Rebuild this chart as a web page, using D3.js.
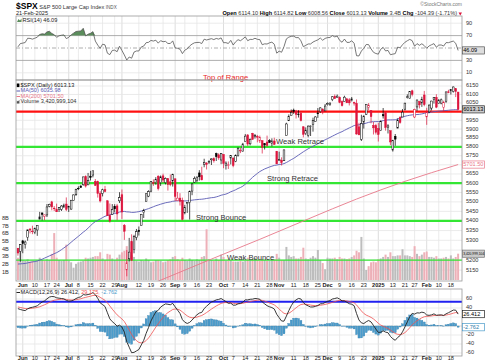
<!DOCTYPE html>
<html><head><meta charset="utf-8">
<script src="https://d3js.org/d3.v7.min.js"></script>
<style>body{margin:0;background:#fff}svg{display:block}text{font-family:"Liberation Sans",Arial,sans-serif}</style>
</head><body>
<svg id="chart" width="485" height="360"></svg>
<script>
// closes before the visible window (Mar 18 - May 29 2024), only used to warm up MA / RSI / MACD
var preCloses = [5149.42,5178.51,5224.62,5241.53,5234.18,5218.19,5203.58,5248.49,5254.35,
 5243.77,5205.81,5211.49,5147.21,5204.34,5202.39,5209.91,5160.64,5199.06,5123.41,5061.82,5051.41,5022.21,5011.12,4967.23,5010.60,5070.55,5071.63,5048.42,5099.96,5116.17,5035.69,
 5018.39,5064.20,5127.79,5180.74,5187.70,5187.67,5214.08,5222.68,5221.42,5246.68,5308.15,5297.10,5303.27,5308.13,5321.41,5307.01,5267.84,5304.72,5306.04,5266.95];

// daily bars May 30 2024 - Feb 21 2025
var opens = [5259.77,5243.21,5297.15,5278.24,5314.48,5357.80,5343.81,5341.22,5353.00,5409.13,5441.93,5424.08,5431.11,5476.15,5499.99,5466.77,5459.58,5460.73,5460.71,5473.59,5488.48,
 5471.08,5461.84,5507.44,5537.91,5572.75,5584.24,5591.26,5635.21,5590.76,5638.16,5644.09,5610.07,5608.56,5543.37,5544.54,5565.30,5505.84,5428.70,5433.67,5476.55,5478.73,5505.59,
 5537.84,5376.63,5151.14,5206.42,5293.13,5252.57,5314.09,5351.88,5376.98,5442.84,5501.31,5530.50,5557.23,5602.88,5603.09,5637.77,5602.49,5639.66,5602.89,5624.51,5607.30,5612.74,
 5623.89,5506.68,5520.08,5507.33,5442.07,5490.51,5496.42,5557.48,5605.29,5615.14,5655.51,5641.68,5702.83,5709.50,5711.90,5727.61,5733.65,5762.22,5755.36,5726.52,
 5757.73,5698.19,5698.28,5737.76,5737.80,5719.14,5751.80,5778.36,5775.09,5829.81,5866.74,5816.58,5875.62,5859.43,5857.82,5832.70,5834.50,5817.80,5826.75,5833.93,5819.68,5832.65,5775.34,
 5723.22,5725.15,5722.43,5864.89,5947.21,5976.76,6008.86,6003.60,5985.75,5989.68,5912.79,5874.17,5864.30,5914.45,5927.12,5944.36,5992.28,6000.03,6014.11,6003.98,
 6040.11,6042.97,6069.39,6089.03,6081.38,6083.01,6057.59,6060.15,6074.29,6068.17,6063.79,6052.55,6047.65,5912.71,5842.00,5940.25,5984.63,6024.97,6006.17,5920.67,5919.74,
 5903.26,5891.07,5982.81,5993.26,5910.66,5890.66,5782.25,5859.03,5905.21,5967.26,5969.26,6014.12,6081.39,6076.32,6121.43,5969.04,6026.97,6057.70,6050.75,6096.79,
 5969.65,5998.14,6020.45,6072.22,6083.13,6046.40,6049.32,6025.08,6060.59,6115.52,6121.60,6117.76,6134.50,6114.10];
var highs = [5260.21,5280.33,5302.11,5298.80,5354.16,5362.35,5375.08,5365.79,5375.95,5447.25,5441.93,5432.39,5488.50,5490.38,5505.53,5478.31,5490.66,5472.88,5483.14,5490.81,5523.64,
 5479.55,5509.69,5539.27,5570.33,5583.11,5590.75,5635.39,5642.45,5655.56,5666.94,5667.34,5622.49,5614.05,5557.50,5570.36,5585.34,5508.04,5491.59,5488.32,5487.74,5489.46,5551.51,
 5566.16,5383.89,5250.89,5312.34,5330.64,5328.03,5358.22,5371.20,5436.50,5463.22,5546.23,5561.98,5608.30,5620.51,5632.68,5643.22,5641.82,5651.62,5631.18,5627.03,5646.95,5651.37,
 5623.89,5552.99,5546.30,5522.47,5484.20,5497.91,5560.41,5600.71,5636.27,5636.05,5670.81,5689.75,5733.57,5715.14,5725.36,5735.32,5741.03,5767.37,5763.78,5765.14,
 5757.73,5719.14,5718.78,5753.69,5739.34,5757.60,5796.80,5795.03,5822.13,5871.41,5870.36,5846.52,5878.46,5872.17,5866.92,5863.04,5834.85,5817.80,5862.82,5842.92,5847.19,5850.94,5775.34,
 5772.64,5741.43,5783.44,5936.14,5983.84,6012.45,6017.31,6009.92,6008.19,6000.63,5915.82,5909.45,5920.46,5920.67,5965.25,5972.90,6020.75,6025.42,6020.16,6044.17,
 6053.58,6052.79,6089.84,6099.97,6099.97,6088.51,6065.40,6092.59,6079.68,6078.58,6085.19,6057.68,6070.67,5935.52,5982.06,5978.25,6040.10,6049.75,6006.17,5940.79,5929.74,
 5935.09,5949.34,6021.04,6000.68,5927.89,5890.66,5838.96,5871.92,5960.61,5974.00,6014.96,6051.51,6100.81,6118.73,6128.18,6017.17,6069.10,6062.83,6086.64,6120.91,
 6022.13,6042.48,6062.86,6084.03,6101.28,6073.38,6076.28,6063.45,6116.91,6127.47,6129.63,6147.43,6134.50,6114.82];
var lows = [5222.10,5191.68,5234.32,5257.63,5297.64,5335.36,5331.33,5331.52,5322.87,5409.13,5402.51,5403.75,5420.40,5471.32,5455.56,5452.03,5447.59,5446.56,5451.87,5467.54,5451.12,
 5446.53,5458.43,5507.42,5531.63,5562.51,5574.57,5586.44,5576.53,5590.44,5614.75,5631.47,5584.81,5522.81,5497.04,5529.04,5550.90,5426.11,5390.95,5430.70,5444.44,5403.75,5493.75,
 5410.42,5302.03,5119.26,5193.56,5195.54,5233.85,5300.44,5324.37,5376.98,5415.33,5501.31,5525.17,5550.74,5585.50,5591.57,5560.95,5585.16,5602.34,5593.48,5560.20,5583.71,5581.79,
 5504.33,5503.66,5480.53,5402.62,5434.49,5441.72,5406.96,5535.50,5601.65,5604.53,5614.05,5615.08,5686.42,5674.49,5704.94,5698.99,5712.06,5721.01,5727.34,5703.53,
 5681.28,5674.00,5677.37,5702.18,5686.85,5714.56,5745.02,5764.76,5775.09,5829.81,5804.48,5808.34,5840.25,5846.11,5824.81,5821.17,5762.41,5784.92,5799.98,5823.08,5802.17,5811.28,5703.82,
 5723.22,5696.51,5722.10,5864.89,5947.21,5976.76,5986.69,5960.08,5965.91,5943.44,5853.01,5865.95,5853.01,5860.58,5885.22,5944.36,5963.91,5992.27,5984.87,6003.98,
 6035.33,6033.39,6061.06,6079.98,6079.98,6048.63,6029.89,6060.15,6051.25,6035.77,6059.14,6035.19,5867.79,5866.07,5832.30,5902.57,5981.44,6007.37,5932.95,5869.16,5868.86,
 5829.53,5888.66,5960.01,5890.68,5874.78,5809.24,5773.31,5805.46,5905.21,5930.58,5969.26,6006.88,6076.14,6074.67,6088.74,5962.92,6003.67,6018.61,6027.46,6030.93,
 5923.93,5990.87,6007.06,6046.83,6019.96,6044.84,6042.34,6003.00,6051.00,6107.62,6099.51,6111.15,6084.59,6008.56];
var closes = [5235.48,5277.51,5283.40,5291.34,5354.03,5352.96,5346.99,5360.79,5375.32,5421.03,5433.74,5431.60,5473.23,5487.03,5473.17,5464.62,5447.87,5469.30,5477.90,5482.87,5460.48,
 5475.09,5509.01,5537.02,5567.19,5572.85,5576.98,5633.91,5584.54,5615.35,5631.22,5667.20,5588.27,5544.59,5505.00,5564.41,5555.74,5427.13,5399.22,5459.10,5463.54,5436.44,5522.30,
 5446.68,5346.56,5186.33,5240.03,5199.50,5319.31,5344.16,5344.39,5434.43,5455.21,5543.22,5554.25,5608.25,5597.12,5620.85,5570.64,5634.61,5616.84,5625.80,5592.18,5591.96,5648.40,
 5528.93,5520.07,5503.41,5408.42,5471.05,5495.52,5554.13,5595.76,5626.02,5633.09,5634.58,5618.26,5713.64,5702.55,5718.57,5732.93,5722.26,5745.37,5738.17,5762.48,
 5708.75,5709.54,5699.94,5751.07,5695.94,5751.13,5792.04,5780.05,5815.03,5859.85,5815.26,5842.47,5841.47,5864.67,5853.98,5851.20,5797.42,5809.86,5808.12,5823.52,5832.92,5813.67,5705.45,
 5728.80,5712.69,5782.76,5929.04,5973.10,5995.54,6001.35,5983.99,5985.38,5949.17,5870.62,5893.62,5916.98,5917.11,5948.71,5969.34,5987.37,6021.63,5998.74,6032.38,
 6047.15,6049.88,6086.49,6075.11,6090.27,6052.85,6034.91,6084.19,6051.25,6051.09,6074.08,6050.61,5872.16,5867.08,5930.85,5974.07,6040.04,6037.59,5970.84,5906.94,5881.63,
 5868.55,5942.47,5975.38,5909.03,5918.25,5827.04,5836.22,5842.91,5949.91,5937.34,5996.66,6049.24,6086.37,6118.71,6101.24,6012.28,6067.70,6039.31,6071.17,6040.53,
 5994.57,6037.88,6061.48,6083.57,6025.99,6066.44,6068.50,6051.97,6115.07,6114.63,6129.58,6144.15,6117.52,6013.13];
// volume, billions
var volumes = [2.9,4.6,2.6,2.5,2.7,2.4,2.5,2.4,2.5,2.9,2.6,2.5,2.7,2.6,3.4,6.1,2.9,2.6,2.5,2.6,4.6,
 2.5,2.3,1.6,2.1,2.3,2.4,2.5,2.9,2.8,2.9,3.0,3.1,3.1,3.6,2.8,2.6,3.4,3.3,2.8,2.6,2.9,3.3,
 3.6,3.8,4.4,3.4,3.2,3.0,2.5,2.4,2.6,2.5,2.8,2.6,2.3,2.4,2.6,2.6,2.5,2.3,2.4,2.6,2.7,3.0,
 3.1,2.7,2.5,2.9,2.6,2.5,2.8,2.6,2.5,2.7,2.6,3.0,3.1,6.6,2.7,2.6,2.5,2.8,2.6,3.3,
 3.0,2.5,2.5,2.6,2.4,2.4,2.4,2.5,2.4,2.5,2.9,2.6,2.7,2.9,2.6,2.5,2.7,2.6,2.5,2.5,2.7,2.7,3.4,
 2.9,2.6,2.6,4.3,3.2,3.0,3.1,2.8,2.8,3.0,4.2,2.8,2.7,2.9,3.1,2.9,3.9,2.6,2.2,1.4,
 2.9,2.8,2.8,2.9,2.7,3.0,2.8,2.8,2.7,2.8,3.0,3.2,3.8,3.6,5.6,2.8,1.3,1.8,2.3,2.4,2.3,
 2.7,2.8,3.0,3.3,3.0,3.6,3.1,3.1,3.2,3.2,4.0,3.2,3.2,3.1,3.0,4.4,3.4,3.1,3.3,3.6,
 3.7,3.0,3.0,2.9,3.1,2.8,2.8,2.9,3.0,2.8,3.2,2.8,3.0,3.42];
// 200-day MA at a few bars
var ma200Idx = [0,20,40,60,80,100,120,140,160,182];
var ma200Val = [4810,4920,5010,5105,5205,5305,5410,5515,5610,5701.5];

var tickIdx = [2,7,12,16,21,25,30,35,40,43,50,55,60,65,69,74,79,85,89,94,99,104,108,114,119,124,128,133,138,143,149,155,160,164,169,174,179];
var tickText = ['Jun','10','17','24','Jul','8','15','22','29','Aug','12','19','26','Sep','9','16','23','Oct','7','14','21','28','Nov','11','18','25','Dec','9','16','23','2025','13','21','27','Feb','10','18'];
var priceTicks = [5150,5200,5250,5300,5350,5400,5450,5500,5550,5600,5650,5700,5750,5800,5850,5900,5950,6000,6050,6100,6150];
var rsiTicks = [10,30,50,70,90];
var macdTicks = [-60,-40,-20,0,20,40,60];
var volTicks = [1,2,3,4,5,6,7,8];
var levelVals = [6000,5800,5600,5400,5200];
var levelNames = ['Top of Range','Weak Retrace','Strong Retrace','Strong Bounce','Weak Bounce'];

var L=16, R=462;
var svg=d3.select('#chart');
svg.append('rect').attr('width',485).attr('height',360).attr('fill','#fff');

var x=d3.scaleLinear().domain([-0.8,183.6]).range([L,R]);
var yR=d3.scaleLinear().domain([0,100]).range([79,17]);
var yP=d3.scaleLog().domain([5101,6185.7]).range([280,80]);
var yV=d3.scaleLinear().domain([0,26]).range([280,80]);
var yM=d3.scaleLinear().domain([-66.7,80]).range([356,290]);

var panels=[[16,80],[80,281],[289,356]];
var defs=svg.append('defs');
panels.forEach(function(p,k){
	defs.append('clipPath').attr('id','clip'+k).append('rect')
		.attr('x',L).attr('y',p[0]).attr('width',R-L).attr('height',p[1]-p[0]);
});

// vertical grid
panels.forEach(function(p){
	svg.selectAll(null).data(tickIdx).enter().append('line')
		.attr('x1',function(d){return x(d);}).attr('x2',function(d){return x(d);})
		.attr('y1',p[0]).attr('y2',p[1])
		.attr('stroke',function(d,i){return isNaN(+tickText[i])||tickText[i]=='2025'?'#d4d4d4':'#e6e6e6';})
		.attr('stroke-width',0.8);
});

// ---------- indicators ----------
var all=preCloses.concat(closes), off=preCloses.length;
var ma50=closes.map(function(c,i){var j=i+off;return d3.mean(all.slice(j-49,j+1));});
var rsi=[], ag=0, al=0;
for (var j=1;j<all.length;j++){
	var ch=all[j]-all[j-1], g=Math.max(ch,0), l=Math.max(-ch,0);
	if (j<=14){ag+=g/14;al+=l/14;} else {ag=(ag*13+g)/14;al=(al*13+l)/14;}
	if (j>=off) rsi[j-off]=100-100/(1+ag/al);
}
function ema(arr,n){var k=2/(n+1),out=[],e=arr[0];arr.forEach(function(v,i){e=i?v*k+e*(1-k):v;out.push(e);});return out;}
var e12=ema(all,12), e26=ema(all,26);
var macdAll=e12.map(function(v,i){return v-e26[i];});
var sigAll=ema(macdAll,9);
var macd=macdAll.slice(off), sig=sigAll.slice(off);
var hist=macd.map(function(v,i){return v-sig[i];});

// ---------- RSI panel ----------
var gR=svg.append('g').attr('clip-path','url(#clip0)');
rsiTicks.forEach(function(t){
	var st = t==70||t==30||t==50 ? '#999' : '#e6e6e6';
	gR.append('line').attr('x1',L).attr('x2',R).attr('y1',yR(t)).attr('y2',yR(t))
		.attr('stroke',st).attr('stroke-width',0.8)
		.attr('stroke-dasharray',t==50?'4,2,1,2':null);
});
gR.append('path').datum(rsi)
	.attr('d',d3.area().x(function(d,i){return x(i);}).y0(yR(70)).y1(function(d){return yR(Math.max(d,70));}))
	.attr('fill','#5b8c5b');
gR.append('path').datum(rsi)
	.attr('d',d3.line().x(function(d,i){return x(i);}).y(function(d){return yR(d);}))
	.attr('fill','none').attr('stroke','#555').attr('stroke-width',0.8);

// ---------- price panel ----------
var gP=svg.append('g').attr('clip-path','url(#clip1)');
priceTicks.forEach(function(t){
	gP.append('line').attr('x1',L).attr('x2',R).attr('y1',yP(t)).attr('y2',yP(t))
		.attr('stroke','#e6e6e6').attr('stroke-width',0.8);
});
// volume overlay
gP.selectAll('.vol').data(volumes).enter().append('rect')
	.attr('class','vol')
	.attr('x',function(d,i){return x(i)-1;})
	.attr('y',function(d){return yV(d);})
	.attr('width',2)
	.attr('height',function(d){return yV(0)-yV(d);})
	.attr('fill',function(d,i){var p=i?closes[i-1]:preCloses[off-1];return closes[i]<p?'#eeb0b8':'#bdbdbd';});
// level lines
levelVals.forEach(function(v,k){
	gP.append('line').attr('x1',L).attr('x2',R).attr('y1',yP(v)).attr('y2',yP(v))
		.attr('stroke',k==0?'#ff1010':'#33e633').attr('stroke-width',k==0?2.4:(k==4?1.2:2.2));
});
// moving averages
gP.append('path').datum(ma200Val)
	.attr('d',d3.line().x(function(d,i){return x(ma200Idx[i]);}).y(function(d){return yP(d);}).curve(d3.curveMonotoneX))
	.attr('fill','none').attr('stroke','#e8788a').attr('stroke-width',0.9);
gP.append('path').datum(ma50)
	.attr('d',d3.line().x(function(d,i){return x(i);}).y(function(d){return yP(d);}))
	.attr('fill','none').attr('stroke','#5a5ab4').attr('stroke-width',0.9);
// candles
function candleColor(i){var p=i?closes[i-1]:preCloses[off-1];return closes[i]<p?'#dc143c':'#000';}
gP.selectAll('.wick').data(closes).enter().append('line')
	.attr('class','wick')
	.attr('x1',function(d,i){return x(i);}).attr('x2',function(d,i){return x(i);})
	.attr('y1',function(d,i){return yP(highs[i]);}).attr('y2',function(d,i){return yP(lows[i]);})
	.attr('stroke',function(d,i){return candleColor(i);}).attr('stroke-width',0.7);
gP.selectAll('.body').data(closes).enter().append('rect')
	.attr('class','body')
	.attr('x',function(d,i){return x(i)-0.85;})
	.attr('y',function(d,i){return yP(Math.max(opens[i],d));})
	.attr('width',1.7)
	.attr('height',function(d,i){return Math.max(0.6,yP(Math.min(opens[i],d))-yP(Math.max(opens[i],d)));})
	.attr('fill',function(d,i){return d>=opens[i]?'#fff':candleColor(i);})
	.attr('stroke',function(d,i){return candleColor(i);}).attr('stroke-width',0.5);

// level annotations
var annX=[203,276,267,196,227], annY=[80,143.5,181,219.5,259.5];
levelNames.forEach(function(n,k){
	svg.append('text').attr('x',annX[k]).attr('y',annY[k]).text(n)
		.attr('font-size','7.6px').attr('fill',k==0?'#e82828':'#333');
});

// ---------- MACD panel ----------
var gM=svg.append('g').attr('clip-path','url(#clip2)');
macdTicks.forEach(function(t){
	gM.append('line').attr('x1',L).attr('x2',R).attr('y1',yM(t)).attr('y2',yM(t))
		.attr('stroke',t==0?'#cfcfcf':'#e6e6e6').attr('stroke-width',0.8);
});
gM.selectAll('.hist').data(hist).enter().append('rect')
	.attr('class','hist')
	.attr('x',function(d,i){return x(i)-1;})
	.attr('y',function(d){return Math.min(yM(0),yM(d));})
	.attr('width',2)
	.attr('height',function(d){return Math.abs(yM(d)-yM(0));})
	.attr('fill','#4b9bcb').attr('stroke','#2f7aa8').attr('stroke-width',0.3);
gM.append('line').attr('x1',L).attr('x2',R).attr('y1',yM(54)).attr('y2',yM(54))
	.attr('stroke','#2020f0').attr('stroke-width',2);
gM.append('path').datum(sig)
	.attr('d',d3.line().x(function(d,i){return x(i);}).y(function(d){return yM(d);}))
	.attr('fill','none').attr('stroke','#f05050').attr('stroke-width',0.8);
gM.append('path').datum(macd)
	.attr('d',d3.line().x(function(d,i){return x(i);}).y(function(d){return yM(d);}))
	.attr('fill','none').attr('stroke','#222').attr('stroke-width',0.9);

// panel borders
panels.forEach(function(p){
	svg.append('rect').attr('x',L).attr('y',p[0]).attr('width',R-L).attr('height',p[1]-p[0])
		.attr('fill','none').attr('stroke','#9a9a9a').attr('stroke-width',0.8);
});

// ---------- axes text ----------
function axisText(sel,xp,yp,t,anchor,size,fill,weight){
	return sel.append('text').attr('x',xp).attr('y',yp).text(t)
		.attr('font-size',size||'5.6px').attr('fill',fill||'#333')
		.attr('text-anchor',anchor||'start').attr('font-weight',weight||null)
		.attr('dominant-baseline','middle');
}
[285.5,359].forEach(function(yy){
	tickIdx.forEach(function(t,i){
		var bold=isNaN(+tickText[i])||tickText[i]=='2025';
		axisText(svg,x(t),yy,tickText[i],'middle','5.6px','#222',bold?'bold':null);
	});
});

// value tags on the right (positions first, so the labels they cover are skipped)
var tags=[
	[yR(rsi[rsi.length-1]),'46.09','#555','#ddd','#000'],
	[yP(closes[closes.length-1]),'6013.13','#333','#ccc','#000'],
	[yP(ma200Val[ma200Val.length-1]),'5701.50','#e8788a','#fff','#e8788a'],
	[yV(volumes[volumes.length-1]),'3,420,999,104','#777','#ccc','#000'],
	[yM(macd[macd.length-1]),'26.412','#222','#fff','#000'],
	[yM(hist[hist.length-1]),'-2.762','#4b9bcb','#fff','#2f7aa8']
];
function free(yy){return tags.every(function(t){return Math.abs(t[0]-yy)>6;});}
rsiTicks.forEach(function(t){ if (free(yR(t))) axisText(svg,466,yR(t),t);});
priceTicks.forEach(function(t){ if (yP(t)>82 && free(yP(t))) axisText(svg,466,yP(t),t);});
macdTicks.forEach(function(t){ if (free(yM(t))) axisText(svg,466,yM(t),t);});
volTicks.forEach(function(t){axisText(svg,2,yV(t),t+'B');});

tags.forEach(function(t){
	svg.append('rect').attr('x',462.5).attr('y',t[0]-3.6).attr('width',22).attr('height',7.2)
		.attr('fill',t[3]).attr('stroke',t[2]).attr('stroke-width',0.7);
	axisText(svg,463.2,t[0]+0.3,t[1],'start',t[1].length>8?'3.3px':'5.6px',t[4]);
});

// ---------- headers & legends ----------
var t1=svg.append('text').attr('x',16).attr('y',8.5);
t1.append('tspan').text('$SPX').attr('font-weight','bold').attr('font-size','8.5px');
t1.append('tspan').text(' S&P 500 Large Cap Index ').attr('font-size','5.6px').attr('fill','#333');
t1.append('tspan').text('INDX').attr('font-size','4.6px').attr('fill','#555');
axisText(svg,16,13.2,'21-Feb-2025','start','5.6px','#222');
svg.append('text').attr('x',462).attr('y',5.5).attr('text-anchor','end').text('©StockCharts.com')
	.attr('font-size','5px').attr('fill','#777');
var parts=[['Open',' 6114.10 '],['High',' 6114.82 '],['Low',' 6008.56 '],['Close',' 6013.13 '],['Volume',' 3.4B '],['Chg',' -104.39 (-1.71%)']];
var t2=svg.append('text').attr('x',457).attr('y',15).attr('text-anchor','end').attr('font-size','5.6px');
parts.forEach(function(p){
	t2.append('tspan').text(p[0]).attr('font-weight','bold');
	t2.append('tspan').text(p[1]).attr('fill','#333');
});
svg.append('path').attr('d','M458.5,12.5 L462,12.5 L460.25,15.5 Z').attr('fill','#dc143c');

// RSI legend
svg.append('path').attr('d','M17,22 L18.5,19 L20,20.5 L21.5,18.5 L21.5,22 Z').attr('fill','#5b8c5b');
axisText(svg,22.5,20.5,'RSI(14) 46.09','start','5.6px','#222');

// price legend
svg.append('rect').attr('x',16.8).attr('y',83.5).attr('width',2.6).attr('height',3.6).attr('fill','#000');
axisText(svg,20.5,85.5,'$SPX (Daily) 6013.13','start','5.6px','#222');
svg.append('line').attr('x1',16.5).attr('x2',20).attr('y1',91).attr('y2',91).attr('stroke','#5a5ab4');
axisText(svg,20.5,91,'MA(50) 6035.98','start','5.6px','#5a5ab4');
svg.append('line').attr('x1',16.5).attr('x2',20).attr('y1',96.5).attr('y2',96.5).attr('stroke','#e8788a');
axisText(svg,20.5,96.5,'MA(200) 5701.50','start','5.6px','#e8788a');
svg.append('path').attr('d','M16.8,103.5 L16.8,100.5 L18,101.5 L19.4,99.8 L19.4,103.5 Z').attr('fill','#555');
axisText(svg,20.5,102,'Volume 3,420,999,104','start','5.6px','#333');

// MACD legend
svg.append('line').attr('x1',16.5).attr('x2',20).attr('y1',292.5).attr('y2',292.5).attr('stroke','#222');
var t3=svg.append('text').attr('x',20.5).attr('y',294.3).attr('font-size','5.6px');
t3.append('tspan').text('MACD(12,26,9) 26.412, ').attr('fill','#222');
t3.append('tspan').text('29.175, ').attr('fill','#f05050');
t3.append('tspan').text('-2.762').attr('fill','#4b9bcb');
</script>
</body></html>
